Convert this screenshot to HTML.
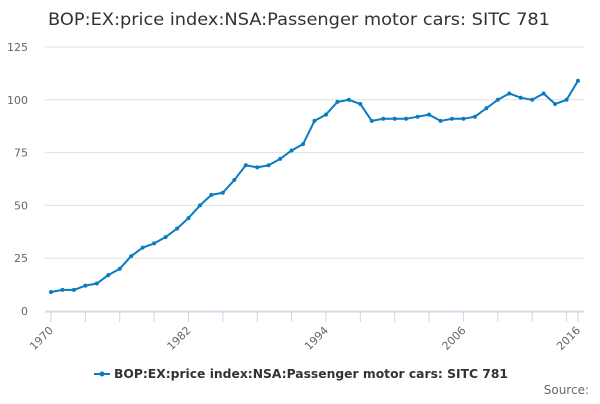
<!DOCTYPE html>
<html><head><meta charset="utf-8"><style>
body{margin:0;background:#fff;font-family:"DejaVu Sans",sans-serif;}
</style></head><body>
<svg id="c" width="600" height="400" xmlns="http://www.w3.org/2000/svg" font-family="DejaVu Sans, sans-serif">
<text x="48" y="25" font-size="17" fill="#333" textLength="502" lengthAdjust="spacingAndGlyphs">BOP:EX:price index:NSA:Passenger motor cars: SITC 781</text>
<g id="grid"></g><g id="axes"></g><g id="series"></g>
<g>
<line x1="94" y1="374" x2="110" y2="374" stroke="#0a7bc1" stroke-width="2"/>
<circle cx="102" cy="374" r="2.5" fill="#0a7bc1"/>
<text x="114" y="378" font-size="12" font-weight="bold" fill="#333" textLength="394" lengthAdjust="spacingAndGlyphs">BOP:EX:price index:NSA:Passenger motor cars: SITC 781</text>
</g>
<text x="589" y="394" font-size="12" fill="#666" text-anchor="end">Source:</text>
</svg>
<script>
const years=[];for(let y=1970;y<=2016;y++)years.push(y);
const values=[9,10,10,12,13,17,20,26,30,32,35,39,44,50,55,56,62,69,68,69,72,76,79,90,93,99,100,98,90,91,91,91,92,93,90,91,91,92,96,100,103,101,100,103,98,100,109];
const yTicks=[0,25,50,75,100,125];
const xLabels=[1970,1982,1994,2006,2016];
const NS="http://www.w3.org/2000/svg";
const X=y=>51+(y-1970)*(578-51)/46;
const Y=v=>311-v*(311-47)/125;
function mk(t,a,p){const e=document.createElementNS(NS,t);for(const k in a)e.setAttribute(k,a[k]);p.appendChild(e);return e;}
const g=document.getElementById('grid'),ax=document.getElementById('axes'),s=document.getElementById('series');
yTicks.forEach(v=>{
 const l=mk('line',{x1:45,x2:584,y1:Y(v),y2:Y(v),stroke:'#e0e0e0','stroke-width':1},g);
 
 
 const t=mk('text',{x:28,y:Y(v)+4,'font-size':11,fill:'#666','text-anchor':'end'},ax);t.textContent=v;
 
 
});
mk('line',{x1:45,x2:584,y1:Y(0)+1,y2:Y(0)+1,stroke:'#ccd6eb'},ax);
for(let y=1970;y<=2016;y+=3){mk('line',{x1:X(y),x2:X(y),y1:Y(0)+1,y2:Y(0)+11,stroke:'#ccd6eb'},ax);}
mk('line',{x1:X(2016),x2:X(2016),y1:Y(0)+1,y2:Y(0)+11,stroke:'#ccd6eb'},ax);
xLabels.forEach(y=>{
 const t=mk('text',{x:X(y)+3,y:Y(0)+20,'font-size':11,fill:'#666','text-anchor':'end',transform:`rotate(-45 ${X(y)+3} ${Y(0)+20})`},ax);t.textContent=y;
 
 
});
const p=mk('polyline',{points:values.map((v,i)=>X(years[i])+','+Y(v)).join(' '),fill:'none',stroke:'#0a7bc1','stroke-width':2,'stroke-linejoin':'round'},s);


values.forEach((v,i)=>{const c=mk('circle',{cx:X(years[i]),cy:Y(v),r:2,fill:'#0a7bc1'},s);
 
 });
</script>
</body></html>
